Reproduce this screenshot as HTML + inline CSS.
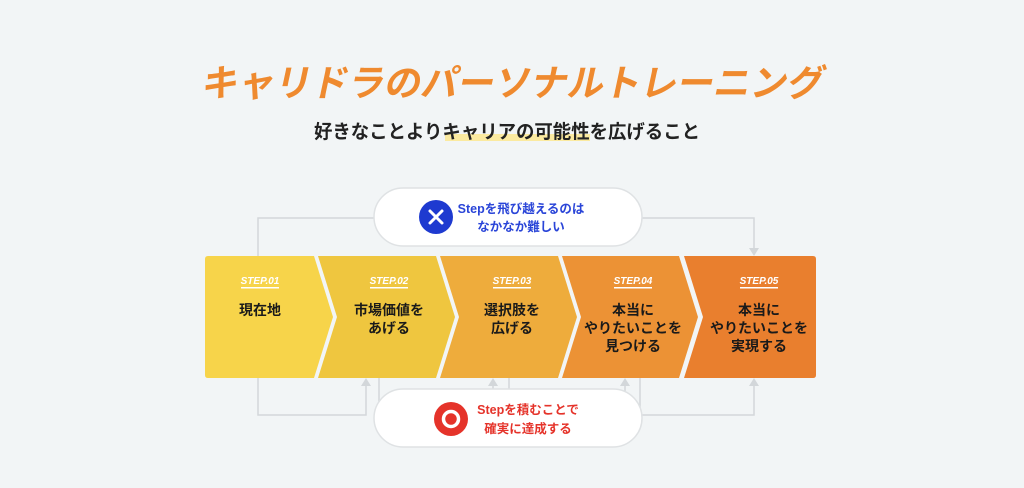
<!DOCTYPE html>
<html><head><meta charset="utf-8"><style>
html,body{margin:0;padding:0;background:#f2f5f6;}
svg{display:block;font-family:"Liberation Sans","Noto Sans CJK JP",sans-serif;}
</style></head><body>
<svg width="1024" height="488" viewBox="0 0 1024 488">
<rect width="1024" height="488" fill="#f2f5f6"/>
<g transform="translate(511,96) skewX(-12)">
<text x="0" y="0" text-anchor="middle" font-size="37" font-weight="700" fill="#ef8a2f" textLength="622" lengthAdjust="spacingAndGlyphs">キャリドラのパーソナルトレーニング</text>
</g>
<rect x="445" y="134" width="145" height="7" fill="#fbeaa0"/>
<text x="507" y="138" text-anchor="middle" font-size="19" font-weight="700" fill="#222" textLength="386" lengthAdjust="spacingAndGlyphs">好きなことよりキャリアの可能性を広げること</text>

<g stroke="#d3d7da" stroke-width="1.5" fill="none">
<polyline points="258,256 258,218 754,218 754,250"/>
<polyline points="258,378 258,415 366,415 366,384"/>
<polyline points="379,378 379,415 493,415 493,384"/>
<polyline points="509,378 509,415 625,415 625,384"/>
<polyline points="640,378 640,415 754,415 754,384"/>
</g>
<g fill="#d3d7da">
<polygon points="749,248 759,248 754,256"/>
<polygon points="361,386 371,386 366,378"/>
<polygon points="488,386 498,386 493,378"/>
<polygon points="620,386 630,386 625,378"/>
<polygon points="749,386 759,386 754,378"/>
</g>

<path d="M208,256 L314,256 L333,317 L314,378 L208,378 Q205,378 205,375 L205,259 Q205,256 208,256Z" fill="#f7d44a"/>
<path d="M318,256 L436,256 L455,317 L436,378 L318,378 L337,317Z" fill="#efc63f"/>
<path d="M440,256 L558,256 L577,317 L558,378 L440,378 L459,317Z" fill="#eeac3c"/>
<path d="M562,256 L679,256 L698,317 L679,378 L562,378 L581,317Z" fill="#ec9235"/>
<path d="M684,256 L813,256 Q816,256 816,259 L816,375 Q816,378 813,378 L684,378 L703,317Z" fill="#e97f2e"/>

<g font-size="10" font-weight="700" font-style="italic" fill="#fff" text-anchor="middle">
<text x="260" y="284">STEP.01</text><rect x="241" y="287" width="38" height="1.5" fill="#fff"/>
<text x="389" y="284">STEP.02</text><rect x="370" y="287" width="38" height="1.5" fill="#fff"/>
<text x="512" y="284">STEP.03</text><rect x="493" y="287" width="38" height="1.5" fill="#fff"/>
<text x="633" y="284">STEP.04</text><rect x="614" y="287" width="38" height="1.5" fill="#fff"/>
<text x="759" y="284">STEP.05</text><rect x="740" y="287" width="38" height="1.5" fill="#fff"/>
</g>
<g font-size="14" font-weight="700" fill="#1a1a1a" text-anchor="middle">
<text x="260" y="315">現在地</text>
<text x="389" y="315">市場価値を</text><text x="389" y="333">あげる</text>
<text x="512" y="315">選択肢を</text><text x="512" y="333">広げる</text>
<text x="633" y="315">本当に</text><text x="633" y="333">やりたいことを</text><text x="633" y="351">見つける</text>
<text x="759" y="315">本当に</text><text x="759" y="333">やりたいことを</text><text x="759" y="351">実現する</text>
</g>

<rect x="374" y="188" width="268" height="58" rx="29" fill="#fff" stroke="#dfe2e4" stroke-width="1.5"/>
<circle cx="436" cy="217" r="17" fill="#1e3ad0"/>
<path d="M430,211 L442,223 M442,211 L430,223" stroke="#fff" stroke-width="3" stroke-linecap="round"/>
<g font-size="12.5" font-weight="700" fill="#2a45d8" text-anchor="middle">
<text x="521" y="213">Stepを飛び越えるのは</text>
<text x="521" y="231">なかなか難しい</text>
</g>
<rect x="374" y="389" width="268" height="58" rx="29" fill="#fff" stroke="#dfe2e4" stroke-width="1.5"/>
<circle cx="451" cy="419" r="17" fill="#e5332a"/>
<circle cx="451" cy="419" r="7.5" fill="none" stroke="#fff" stroke-width="3.5"/>
<g font-size="12.5" font-weight="700" fill="#e5332a" text-anchor="middle">
<text x="528" y="414">Stepを積むことで</text>
<text x="528" y="433">確実に達成する</text>
</g>
</svg>
</body></html>
